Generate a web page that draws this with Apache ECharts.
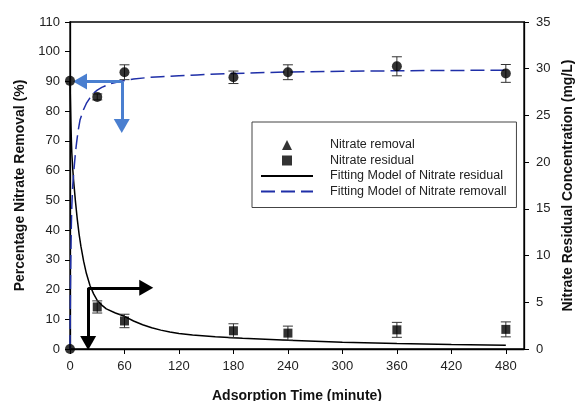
<!DOCTYPE html>
<html>
<head>
<meta charset="utf-8">
<script src="https://cdn.jsdelivr.net/npm/echarts@6/dist/echarts.min.js"></script>
<style>html,body{margin:0;padding:0;background:#fff;}#c{width:577px;height:401px;}</style>
</head>
<body>
<div id="c"></div>
<script>
// ---- data ----
const times = [0, 30, 60, 180, 240, 360, 480];
const removal = [0, 84.8, 93.1, 91.4, 93.1, 95.1, 92.7];          // %
const removalErr = [0, 1.0, 2.5, 2.1, 2.5, 3.2, 3.0];
const residual = [28.7, 4.5, 3.0, 1.95, 1.7, 2.05, 2.1];          // mg/L
const residualErr = [0, 0.65, 0.72, 0.75, 0.75, 0.8, 0.8];

const residualFitT = [0, 0.5, 1, 1.5, 2, 3, 4, 5, 6, 8, 10, 12, 15, 18, 22, 26, 30, 35, 40, 50, 60, 70, 80, 90, 100, 110, 120, 135, 160, 190, 240, 300, 360, 420, 480];
const residualFitV = [28.7, 26.5, 24.2, 22.4, 21.0, 19.3, 18.0, 16.9, 15.8, 13.9, 12.3, 11.0, 9.4, 8.1, 6.8, 5.9, 5.2, 4.7, 4.3, 3.85, 3.5, 3.0, 2.6, 2.28, 2.02, 1.82, 1.66, 1.5, 1.32, 1.15, 0.93, 0.73, 0.58, 0.47, 0.4];
const removalFitT = [0, 0.5, 1, 1.5, 2, 3, 4.4, 6, 7.3, 9, 11, 14.7, 18, 22, 25.7, 30, 35, 45, 55, 70, 85, 100, 120, 140, 180, 240, 300, 360, 420, 480];
const removalFitV = [0, 20, 33, 42, 48, 55, 60.5, 66, 69.5, 73.5, 77, 80.4, 82.6, 84.5, 86, 87.1, 88, 89.3, 90, 90.8, 91.3, 91.6, 91.95, 92.2, 92.7, 93.2, 93.4, 93.6, 93.7, 93.8];

const xTicks = [0, 60, 120, 180, 240, 300, 360, 420, 480];
const seriesNames = ['Nitrate removal', 'Nitrate residual', 'Fitting Model of Nitrate residual', 'Fitting Model of Nitrate removall'];
const xTitle = 'Adsorption Time (minute)';
const yLeftTitle = 'Percentage Nitrate Removal (%)';
const yRightTitle = 'Nitrate Residual Concentration (mg/L)';

// annotation arrows: [from, to] in (time, % removal) coordinates
const blueArrows = [[[57, 90], [11, 90]], [[57, 90], [57, 75]]];
const blackArrows = [[[20, 20.6], [20, 2.0]], [[20, 20.6], [84, 20.6]]];

// ---- chart ----
const FONT = "'Liberation Sans', Arial, sans-serif";
const chart = echarts.init(document.getElementById('c'), null, {renderer: 'canvas'});

function zip(a, b) { return a.map((v, i) => [v, b[i]]); }
function errData(vals, errs) {
  const out = [];
  vals.forEach((v, i) => { if (errs[i] > 0) out.push([times[i], v - errs[i], v + errs[i]]); });
  return out;
}
function errRender(params, api) {
  const x = api.value(0), lo = api.value(1), hi = api.value(2);
  const p1 = api.coord([x, hi]), p2 = api.coord([x, lo]);
  const w = 5, st = {stroke: '#333', lineWidth: 1};
  return {type: 'group', children: [
    {type: 'line', shape: {x1: p1[0], y1: p1[1], x2: p2[0], y2: p2[1]}, style: st},
    {type: 'line', shape: {x1: p1[0] - w, y1: p1[1], x2: p1[0] + w, y2: p1[1]}, style: st},
    {type: 'line', shape: {x1: p2[0] - w, y1: p2[1], x2: p2[0] + w, y2: p2[1]}, style: st}
  ]};
}
function arrowData(list, color) {
  return list.map(a => [{coord: a[0], lineStyle: {color: color, width: 3, type: 'solid'}, itemStyle: {color: color}}, {coord: a[1]}]);
}

const axisCommon = {
  axisLine: {show: true, lineStyle: {color: '#000', width: 1.3}},
  axisTick: {show: true, inside: false, length: 5, lineStyle: {color: '#000', width: 1}},
  splitLine: {show: false},
  axisLabel: {color: '#222', fontSize: 13, fontFamily: FONT},
  nameTextStyle: {color: '#111', fontSize: 14, fontWeight: 'bold', fontFamily: FONT}
};

const residualData = zip(times, residual).map((p, i) => i === 0 ? {value: p, symbol: 'circle', symbolSize: 10} : p);

chart.setOption({
  animation: false,
  backgroundColor: '#fff',
  textStyle: {fontFamily: FONT},
  grid: {left: 70, right: 53, top: 22, bottom: 52, containLabel: false, outerBoundsMode: 'none',
         show: true, borderColor: '#000', borderWidth: 1.3, backgroundColor: 'transparent'},
  legend: {
    orient: 'vertical', left: 252, top: 122,
    padding: [16, 10, 9, 8],
    itemWidth: 52, itemHeight: 10, itemGap: 1.5,
    symbolKeepAspect: true,
    borderColor: '#444', borderWidth: 1,
    textStyle: {fontSize: 12.5, lineHeight: 14, color: '#222', fontFamily: FONT, padding: [0, 0, 0, 12]},
    selectedMode: false,
    data: [
      {name: seriesNames[0], icon: 'path://M5,0L10,10L0,10Z'},
      {name: seriesNames[1], icon: 'path://M0,0L9,0L9,9L0,9Z'},
      {name: seriesNames[2], itemStyle: {opacity: 0}},
      {name: seriesNames[3], itemStyle: {opacity: 0}}
    ]
  },
  xAxis: Object.assign({}, axisCommon, {
    type: 'value', min: 0, max: 500,
    name: xTitle, nameLocation: 'middle', nameGap: 40,
    axisTick: Object.assign({}, axisCommon.axisTick, {customValues: xTicks}),
    axisLabel: Object.assign({}, axisCommon.axisLabel, {customValues: xTicks, margin: 11})
  }),
  yAxis: [
    Object.assign({}, axisCommon, {
      type: 'value', min: 0, max: 110, interval: 10, position: 'left',
      name: yLeftTitle, nameLocation: 'middle', nameGap: 42,
      axisLabel: Object.assign({}, axisCommon.axisLabel, {margin: 10})
    }),
    Object.assign({}, axisCommon, {
      type: 'value', min: 0, max: 35, interval: 5, position: 'right',
      name: yRightTitle, nameLocation: 'middle', nameGap: 36,
      axisLabel: Object.assign({}, axisCommon.axisLabel, {margin: 12})
    })
  ],
  series: [
    {
      name: seriesNames[2], type: 'line', yAxisIndex: 1, symbol: 'none', smooth: false,
      data: zip(residualFitT, residualFitV), color: '#000',
      lineStyle: {color: '#000', width: 1.5}, z: 2
    },
    {
      name: seriesNames[3], type: 'line', yAxisIndex: 0, symbol: 'none', smooth: false,
      data: zip(removalFitT, removalFitV), color: '#1f2fa8',
      lineStyle: {color: '#1f2fa8', width: 1.5, type: [14, 6]}, z: 2
    },
    {type: 'custom', yAxisIndex: 0, renderItem: errRender, data: errData(removal, removalErr), encode: {x: 0, y: [1, 2]}, z: 3, silent: true},
    {type: 'custom', yAxisIndex: 1, renderItem: errRender, data: errData(residual, residualErr), encode: {x: 0, y: [1, 2]}, z: 3, silent: true},
    {
      name: seriesNames[0], type: 'scatter', yAxisIndex: 0, symbol: 'circle', symbolSize: 10,
      data: zip(times, removal), itemStyle: {color: '#000'}, color: '#000', z: 5,
      markLine: {
        silent: true, animation: false, symbol: ['none', 'triangle'], symbolSize: [16, 14],
        label: {show: false}, emphasis: {disabled: true},
        data: arrowData(blueArrows, '#4a7fd0').concat(arrowData(blackArrows, '#000'))
      }
    },
    {
      name: seriesNames[1], type: 'scatter', yAxisIndex: 1, symbol: 'rect', symbolSize: 9,
      data: residualData, itemStyle: {color: '#000'}, color: '#000', z: 5
    }
  ]
});
</script>
</body>
</html>
